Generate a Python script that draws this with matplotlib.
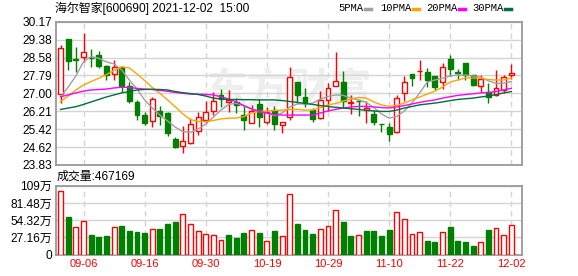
import numpy as np
import matplotlib.pyplot as plt
from matplotlib.patches import Rectangle

plt.rcParams['font.family'] = ['Liberation Sans', 'Noto Sans CJK SC', 'DejaVu Sans']

# 交易日
dates = ['09-01', '09-02', '09-03', '09-06', '09-07', '09-08', '09-09', '09-10',
         '09-13', '09-14', '09-15', '09-16', '09-17', '09-22', '09-23', '09-24',
         '09-27', '09-28', '09-29', '09-30', '10-08', '10-11', '10-12', '10-13',
         '10-14', '10-15', '10-18', '10-19', '10-20', '10-21', '10-22', '10-25',
         '10-26', '10-27', '10-28', '10-29', '11-01', '11-02', '11-03', '11-04',
         '11-05', '11-08', '11-09', '11-10', '11-11', '11-12', '11-15', '11-16',
         '11-17', '11-18', '11-19', '11-22', '11-23', '11-24', '11-25', '11-26',
         '11-29', '11-30', '12-01', '12-02']
label_dates = ['09-06', '09-16', '09-30', '10-19', '10-29', '11-10', '11-22', '12-02']

opens = [26.98, 29.40, 28.50, 28.59, 28.58, 28.70, 28.21, 27.86, 28.18, 27.33,
         26.61, 26.06, 25.78, 26.22, 26.15, 24.98, 24.66, 24.80, 25.33, 25.80,
         26.20, 26.93, 26.62, 26.60, 26.06, 25.69, 26.52, 25.72, 26.26, 25.60,
         25.95, 27.49, 26.85, 26.25, 25.93, 26.71, 27.34, 27.49, 26.58, 26.66,
         26.26, 26.07, 25.66, 25.49, 25.27, 27.00, 27.84, 27.97, 27.94, 27.77,
         27.50, 28.51, 27.93, 28.34, 27.81, 27.34, 27.04, 26.93, 27.17, 27.81]
closes = [28.99, 28.44, 28.46, 28.82, 28.56, 28.23, 27.81, 28.18, 27.33, 26.66,
          26.04, 25.69, 26.77, 26.01, 25.26, 24.64, 24.88, 25.63, 25.95, 26.17,
          26.66, 26.75, 26.71, 26.49, 25.81, 26.22, 25.97, 26.19, 25.63, 25.75,
          27.71, 26.93, 26.56, 25.85, 26.71, 27.22, 27.56, 26.68, 26.62, 26.64,
          26.33, 25.75, 25.64, 25.22, 26.78, 27.49, 27.66, 27.98, 27.57, 27.26,
          28.18, 28.06, 27.91, 27.83, 27.37, 27.63, 26.86, 27.24, 27.71, 27.91]
highs = [29.14, 29.40, 29.05, 29.67, 28.95, 28.87, 28.25, 28.48, 28.21, 27.51,
         26.71, 26.18, 26.84, 26.45, 26.18, 25.05, 25.56, 25.90, 26.18, 26.66,
         27.04, 27.19, 27.15, 26.78, 26.45, 26.49, 26.77, 26.40, 26.44, 25.75,
         28.17, 27.50, 27.23, 26.35, 27.10, 27.44, 28.83, 27.99, 26.93, 26.71,
         26.66, 26.26, 25.66, 25.69, 26.93, 27.77, 27.84, 28.48, 28.14, 27.77,
         28.34, 28.70, 28.08, 28.34, 27.83, 27.83, 27.44, 28.03, 27.79, 28.29]
lows = [26.56, 28.03, 27.95, 28.39, 28.18, 28.12, 27.59, 27.59, 27.07, 26.57,
        25.82, 25.58, 25.53, 25.58, 25.11, 24.60, 24.38, 24.78, 25.16, 25.69,
        26.04, 26.41, 26.16, 26.12, 25.37, 25.67, 25.53, 25.64, 25.37, 25.23,
        25.82, 26.57, 26.41, 25.72, 25.87, 26.20, 27.33, 26.37, 26.09, 26.00,
        25.67, 25.62, 25.27, 24.91, 25.23, 26.66, 27.33, 27.59, 27.28, 27.13,
        27.21, 27.77, 27.59, 27.59, 27.33, 27.06, 26.56, 26.90, 27.00, 27.64]

ma5 = [26.85, 27.28, 27.77, 28.40, 28.63, 28.55, 28.39, 28.30, 28.03, 27.59,
       27.19, 26.71, 26.35, 26.04, 25.78, 25.51, 25.31, 25.28, 25.42, 25.64,
       25.95, 26.26, 26.51, 26.56, 26.44, 26.31, 26.20, 26.12, 26.02, 26.13,
       26.40, 26.53, 26.53, 26.57, 26.75, 26.86, 26.93, 26.91, 26.79, 26.71,
       26.60, 26.37, 26.09, 25.90, 25.98, 26.22, 26.57, 27.02, 27.50, 27.59,
       27.67, 27.77, 27.81, 27.81, 27.77, 27.72, 27.55, 27.44, 27.45, 27.52]
ma10 = [26.64, 26.88, 27.15, 27.37, 27.52, 27.67, 27.83, 28.01, 28.17, 28.12,
        27.86, 27.57, 27.26, 27.00, 26.71, 26.41, 26.09, 25.84, 25.75, 25.75,
        25.80, 25.87, 25.90, 25.91, 25.97, 26.13, 26.20, 26.22, 26.24, 26.26,
        26.29, 26.29, 26.26, 26.26, 26.37, 26.49, 26.55, 26.66, 26.75, 26.82,
        26.79, 26.62, 26.49, 26.42, 26.46, 26.57, 26.71, 26.84, 26.97, 27.10,
        27.28, 27.50, 27.59, 27.68, 27.68, 27.67, 27.61, 27.59, 27.59, 27.68]
ma20 = [26.85, 26.93, 27.02, 27.10, 27.15, 27.17, 27.19, 27.24, 27.27, 27.26,
        27.22, 27.19, 27.17, 27.13, 27.09, 27.04, 27.00, 26.97, 26.96, 26.95,
        26.93, 26.85, 26.75, 26.62, 26.46, 26.31, 26.20, 26.13, 26.06, 26.04,
        26.04, 26.04, 26.04, 26.04, 26.13, 26.22, 26.29, 26.35, 26.40, 26.42,
        26.42, 26.40, 26.37, 26.35, 26.40, 26.46, 26.53, 26.60, 26.66, 26.71,
        26.79, 26.85, 26.91, 26.95, 26.98, 27.02, 27.04, 27.08, 27.15, 27.22]
ma30 = [26.29, 26.35, 26.41, 26.51, 26.62, 26.73, 26.84, 26.93, 27.02, 27.08,
        27.15, 27.17, 27.18, 27.17, 27.15, 27.08, 27.03, 26.99, 26.95, 26.88,
        26.79, 26.75, 26.73, 26.73, 26.72, 26.72, 26.71, 26.71, 26.71, 26.68,
        26.64, 26.60, 26.55, 26.51, 26.46, 26.42, 26.38, 26.35, 26.32, 26.29,
        26.25, 26.22, 26.20, 26.20, 26.26, 26.35, 26.42, 26.49, 26.53, 26.57,
        26.62, 26.68, 26.73, 26.76, 26.79, 26.84, 26.88, 26.95, 27.02, 27.08]

# 成交量 (万手)
volumes = [99.7, 59.3, 43.0, 52.5, 31.0, 27.8, 29.4, 43.0, 45.1, 37.3,
           35.7, 34.1, 39.9, 40.4, 48.3, 51.4, 64.0, 48.3, 36.7, 32.5,
           30.4, 22.6, 31.0, 26.2, 34.1, 38.3, 34.1, 21.5, 37.3, 28.9,
           95.0, 48.3, 38.8, 32.5, 39.9, 44.6, 69.8, 51.4, 28.9, 30.4,
           37.3, 37.3, 29.4, 38.8, 66.7, 55.6, 32.5, 35.2, 21.5, 19.9,
           35.7, 43.6, 21.5, 19.9, 13.6, 19.9, 38.8, 42.0, 31.0, 46.7]

price_ticks = [23.83, 24.62, 25.42, 26.21, 27.00, 27.79, 28.58, 29.38, 30.17]
vol_ticks = [0, 27.16, 54.32, 81.48, 108.64]
vol_labels = ['0', '27.16万', '54.32万', '81.48万', '109万']
ma_names = ['5PMA', '10PMA', '20PMA', '30PMA']

RED = '#ff0000'
GREEN = '#008000'
GRID = '#d4d4d4'
FRAME = '#9a9a9a'
ma_colors = ['#a0a0a0', '#ffa500', '#ff00ff', '#006f3c']

x = np.arange(len(dates))
w = 0.64

fig = plt.figure(figsize=(5.78, 2.76), dpi=100)
ax = fig.add_axes([56 / 578, 1 - 165 / 276, 466 / 578, 143.3 / 276])
ax2 = fig.add_axes([56 / 578, 1 - 254.7 / 276, 466 / 578, 69 / 276])

grid_idx = [dates.index(d) for d in label_dates]

for a in (ax, ax2):
    a.set_xlim(-0.6, len(dates) + 0.4)
    for gi in grid_idx:
        a.axvline(gi, color=GRID, lw=1, ls=(0, (4, 3)), zorder=0)
    for s in a.spines.values():
        s.set_color(FRAME)
        s.set_linewidth(1.3)
    a.tick_params(length=0, labelsize=8.6, pad=3)

# K线
ax.set_ylim(23.83, 30.17)
ax.set_yticks(price_ticks)
ax.set_yticklabels(['%.2f' % t for t in price_ticks])
ax.set_xticks([])
ax.grid(axis='y', color=GRID, lw=1)
ax.set_axisbelow(True)

ax.text(0.5, 0.52, '东方财富', transform=ax.transAxes, fontsize=30,
        color='#eeeeee', ha='center', va='center', family=['Noto Sans CJK SC'],
        fontweight='bold', zorder=0.5)

for i in x:
    up = closes[i] >= opens[i]
    c = RED if up else GREEN
    ax.vlines(i, lows[i], highs[i], color=c, lw=1, zorder=2)
    bottom = min(opens[i], closes[i])
    h = abs(closes[i] - opens[i])
    ax.add_patch(Rectangle((i - w / 2, bottom), w, h,
                           facecolor='white' if up else c, edgecolor=c,
                           lw=1, zorder=3))

for ma, col in zip([ma5, ma10, ma20, ma30], ma_colors):
    ax.plot(x, ma, color=col, lw=1, zorder=4)

# 成交量
vol_up = np.r_[True, np.diff(closes) >= 0]
vcols = [RED if u else GREEN for u in vol_up]
ax2.bar(x, volumes, width=w, color=['white' if u else GREEN for u in vol_up],
        edgecolor=vcols, lw=1, zorder=3)
ax2.set_ylim(0, 108.64)
ax2.set_yticks(vol_ticks)
ax2.set_yticklabels(vol_labels)
ax2.grid(axis='y', color=GRID, lw=1)
ax2.set_axisbelow(True)
ax2.set_xticks(grid_idx)
ax2.set_xticklabels(label_dates, color=RED, fontsize=8)

# 标题和图例
fig.text(55 / 578, 1 - 8 / 276, '海尔智家[600690] 2021-12-02  15:00',
         fontsize=8.6, va='center', ha='left')
fig.text(57 / 578, 1 - 177 / 276, '成交量:467169', fontsize=8.6,
         va='center', ha='left')

leg_text_x = [338, 380, 426, 472]
leg_dash_x = [365, 413, 459, 505]
for tx, dx, name, col in zip(leg_text_x, leg_dash_x, ma_names, ma_colors):
    fig.text(tx / 578, 1 - 8 / 276, name, fontsize=7.6, va='center', ha='left',
             family=['Liberation Mono'])
    fig.add_artist(plt.Line2D([dx / 578, (dx + 6) / 578],
                              [1 - 8.5 / 276, 1 - 8.5 / 276],
                              color=col, lw=2.5, transform=fig.transFigure))

fig.savefig('out.png', dpi=100)
